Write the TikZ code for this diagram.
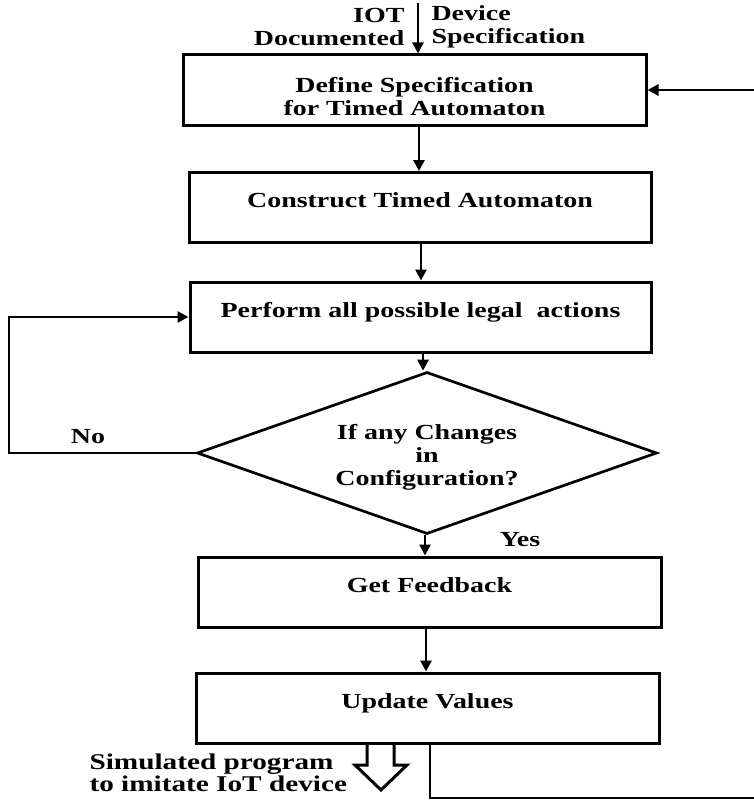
\documentclass[tikz,border=0pt]{standalone}
\usepackage{fontspec}
\setmainfont{Liberation Serif}[FakeStretch=1.3]
\usetikzlibrary{arrows.meta,shapes.geometric}
\begin{document}
\begin{tikzpicture}[x=1pt,y=-1pt,
  txt/.style={font=\fontsize{21.5}{23}\selectfont\bfseries},
  box/.style={draw, line width=3pt, rectangle, minimum width=463pt, minimum height=70pt, inner sep=0pt, txt, align=center},
  conn/.style={line width=2.7pt},
  arr/.style={conn, -{Triangle[length=11pt,width=11pt]}}]
\useasboundingbox (0,0) rectangle (754,800);
% boxes
\node[box, text height=55pt, text depth=4pt] (b1) at (414.5,90) {Define Specification\\for Timed Automaton};
\node[box, minimum width=462pt, text depth=14pt] (b2) at (420,207.5) {Construct Timed Automaton};
\node[box, minimum width=461pt, text depth=14pt] (b3) at (420.5,317) {Perform all possible legal\ \ actions};
\node[draw, diamond, conn, aspect=2.84, minimum width=460pt, minimum height=162pt, inner sep=0pt, txt, align=center, text height=68pt, text depth=4pt] (d) at (427,453) {If any Changes\\in\\Configuration?};
\node[box, text depth=14pt] (gf) at (429.5,592) {Get Feedback};
\node[box, text depth=14pt] (uv) at (427.5,708) {Update Values};
% labels
\node[txt, anchor=east, align=right] (iot) at (408,27) {IOT\\Documented};
\node[txt, anchor=west, align=left] (dev) at (428,27) {Device\\Specification};
\node[txt] (no) at (88,437) {No};
\node[txt] (yes) at (520,540) {Yes};
\node[anchor=west, align=left, font=\fontsize{22.5}{20}\selectfont\bfseries] (sim) at (86,773) {Simulated program\\to imitate IoT device};
% columns
\coordinate (in) at (418,3);
\coordinate (x1) at (419,0);
\coordinate (x2) at (421,0);
\coordinate (x3) at (423,0);
\coordinate (x4) at (425,0);
\coordinate (x5) at (426,0);
\coordinate (nl) at (9,0);
\coordinate (fbx) at (430,0);
\coordinate (fbr) at (757,798);
% connectors
\draw[arr] (in) -- (in |- b1.north);
\draw[arr] (b1.south -| x1) -- (b2.north -| x1);
\draw[arr] (b2.south -| x2) -- (b3.north -| x2);
\draw[arr] (b3.south -| x3) -- (d.north -| x3);
\draw[arr] (d.south -| x4) -- (gf.north -| x4);
\draw[arr] (gf.south -| x5) -- (uv.north -| x5);
\draw[arr] (d.west) -- (d.west -| nl) |- (b3.west);
\draw[arr] (uv.south -| fbx) |- (fbr) |- (b1.east);
% hollow output arrow
\draw[line width=3pt] (367,744) -- (367,765) -- (355,765) -- (381,790) -- (407,765) -- (394,765) -- (394,744);
\end{tikzpicture}
\end{document}
